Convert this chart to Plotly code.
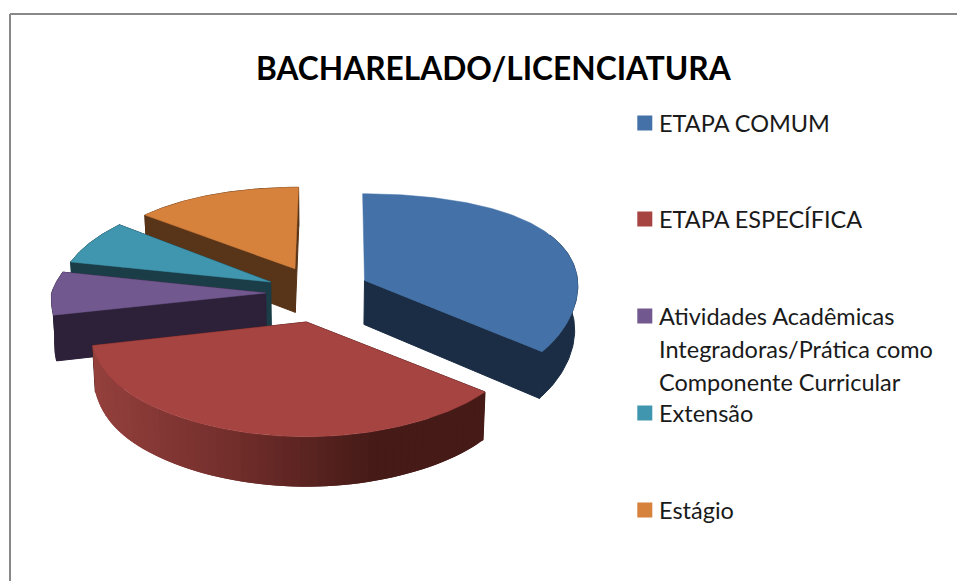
import math
import plotly.graph_objects as go

TITLE = "BACHARELADO/LICENCIATURA"
categories = ["ETAPA COMUM", "ETAPA ESPECÍFICA",
              "Atividades Acadêmicas<br>Integradoras/Prática como<br>Componente Curricular",
              "Extensão", "Estágio"]
values = [35, 37, 6, 7, 15]
top_colors = ["#4472a8", "#a64442", "#71588f", "#4096ae", "#d6813c"]
wall_colors = ["#1a2d44", "#451a17", "#2c2139", "#1a3d47", "#583418"]
legend_y = [123, 219, 316, 413, 510]

# simple perspective model of an exploded 3-D pie, in page pixels
CX, CY, A, H, EXPLODE = 318, 293, 214, 44.5, 0.245


def proj(X, Y, z=0.0):
    if Y >= 0:
        yy = 116 * Y + 4 * math.sin(math.pi * min(Y, 1.245) / 1.245) ** 2
    else:
        yy = 116 * Y + 24 * Y * Y
    xf = 1 + 0.15 * Y if (Y < 0 and X < 0) else 1 + 0.04 * Y
    return CX + A * X * xf * (1 - 0.012 * z), CY + yy + z * H * (1 + 0.1 * Y)


def lerp_hex(c1, c2, t):
    t = max(0.0, min(1.0, t))
    a = [int(c1[i:i + 2], 16) for i in (1, 3, 5)]
    b = [int(c2[i:i + 2], 16) for i in (1, 3, 5)]
    return "#%02x%02x%02x" % tuple(round(u + (v - u) * t) for u, v in zip(a, b))


total = sum(values)
slices = []
start = 0.0
for i, v in enumerate(values):
    sweep = 360 * v / total
    slices.append((i, start, start + sweep))
    start += sweep


def arc_points(a0, a1, n):
    mid = math.radians((a0 + a1) / 2)
    ox, oy = EXPLODE * math.sin(mid), -EXPLODE * math.cos(mid)
    pts = []
    for k in range(n + 1):
        t = math.radians(a0 + (a1 - a0) * k / n)
        pts.append((ox + math.sin(t), oy - math.cos(t)))
    return (ox, oy), pts


def poly(points, color, width=0.5):
    xs = [p[0] for p in points] + [points[0][0]]
    ys = [p[1] for p in points] + [points[0][1]]
    return go.Scatter(x=xs, y=ys, mode="lines", fill="toself", fillcolor=color,
                      line=dict(color=color, width=width), hoverinfo="skip", showlegend=False)


fig = go.Figure()
for i in [4, 3, 2, 0, 1]:
    _, a0, a1 = slices[i]
    n = 120
    apex, pts = arc_points(a0, a1, n)
    walls = [poly([proj(*apex), proj(*e), proj(*e, 1), proj(*apex, 1)], wall_colors[i], 1)
             for e in ([pts[-1]] if i == 0 else [pts[0], pts[-1]])]
    if i == 1:
        # the red slice's radial walls face away: paint them first, then the shaded rim
        fig.add_traces(walls)
        for k in range(0, n, 2):
            p, q = pts[k], pts[min(k + 4, n)]
            px = proj(*p)[0]
            if px > 380:
                color = "#451a17"
            elif px > 230:
                color = lerp_hex("#742f2c", "#451a17", (px - 230) / 150)
            else:
                color = lerp_hex("#94403d", "#742f2c", (px - 95) / 135)
            fig.add_trace(go.Scatter(
                x=[proj(*p)[0], proj(*q)[0], proj(*q, 1)[0], proj(*p, 1)[0], proj(*p)[0]],
                y=[proj(*p)[1], proj(*q)[1], proj(*q, 1)[1], proj(*p, 1)[1], proj(*p)[1]],
                mode="lines", fill="toself", fillcolor=color, line=dict(width=0),
                hoverinfo="skip", showlegend=False))
    else:
        rim = pts[n // 2:] if i == 0 else pts
        fig.add_trace(poly([proj(*p) for p in rim] + [proj(*p, 1) for p in reversed(rim)], wall_colors[i], 1))
        fig.add_traces(walls)
    # top face
    fig.add_trace(poly([proj(*apex)] + [proj(*p) for p in pts], top_colors[i]))

annotations = [dict(x=494, y=68, text="<b>%s</b>" % TITLE, showarrow=False,
                    font=dict(family="Lato", size=31.7, color="#000000"),
                    xref="x", yref="y", xanchor="center", yanchor="middle")]
for name, color, y in zip(categories, top_colors, legend_y):
    fig.add_trace(go.Scatter(x=[644.8], y=[y], mode="markers", hoverinfo="skip", showlegend=False,
                             marker=dict(symbol="square", size=15, color=color)))
    for k, line in enumerate(name.split("<br>")):
        annotations.append(dict(x=657, y=y + 33 * k, text=line, showarrow=False, align="left",
                                font=dict(family="Lato", size=23.5, color="#1a1a1a"),
                                xref="x", yref="y", xanchor="left", yanchor="middle"))

shapes = [dict(type="line", xref="x", yref="y", x0=10, y0=14, x1=957, y1=14,
               line=dict(color="#888888", width=2)),
          dict(type="line", xref="x", yref="y", x0=10, y0=14, x1=10, y1=581,
               line=dict(color="#888888", width=2))]

fig.update_layout(width=957, height=581, margin=dict(l=0, r=0, t=0, b=0),
                  paper_bgcolor="white", plot_bgcolor="white",
                  xaxis=dict(range=[0, 957], visible=False, fixedrange=True),
                  yaxis=dict(range=[581, 0], visible=False, fixedrange=True),
                  annotations=annotations, shapes=shapes, showlegend=False)
fig.write_html("out.html", config=dict(displayModeBar=False),
               post_script="document.body.style.margin='0';document.body.style.overflow='hidden';")
